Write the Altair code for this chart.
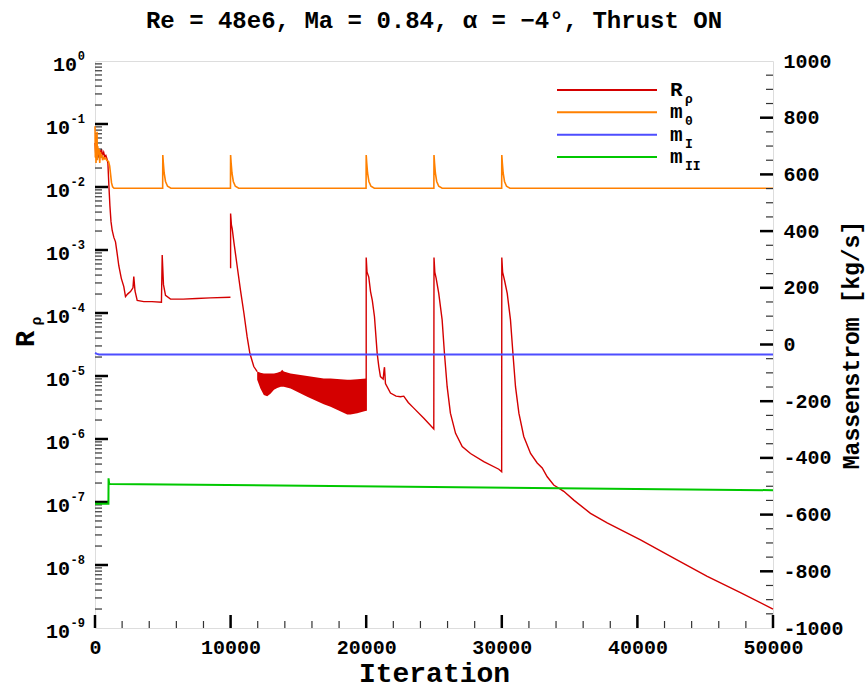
import altair as alt
import pandas as pd

FONT = "Liberation Mono"
RED, ORANGE, BLUE, GREEN = "#d40000", "#ff8000", "#4d4dff", "#00c800"
W, H = 678, 567

# ---------------- data ----------------
# residual R_rho: iteration and log10(R), split in segments
seg1_it = [0, 60, 120, 180, 240, 300, 360, 420, 480, 560, 640, 720, 800, 880, 950, 1018, 1100, 1180,
           1268, 1390, 1512, 1630, 1755, 1940, 2124, 2249, 2400, 2618, 2800, 2861, 2950, 3112, 3600,
           4200, 4900, 4956, 5050, 5200, 5570, 6500, 7500, 8500, 9990]
seg1_lg = [-1.30, -1.50, -1.38, -1.55, -1.40, -1.52, -1.42, -1.48, -1.40, -1.50, -1.45, -1.52, -1.50,
           -1.55, -1.62, -1.95, -2.30, -2.55, -2.69, -2.80, -2.87, -3.05, -3.25, -3.45, -3.58, -3.74,
           -3.70, -3.66, -3.60, -3.42, -3.65, -3.80, -3.82, -3.82, -3.83, -3.08, -3.55, -3.72, -3.78,
           -3.78, -3.77, -3.76, -3.75]
seg2_it = [10000, 10000, 10060, 10118, 10240, 10480, 10730, 10980, 11220, 11420, 11710, 11960]
seg2_lg = [-3.29, -2.42, -2.60, -2.66, -2.87, -3.25, -3.64, -4.00, -4.38, -4.64, -4.85, -4.93]
seg3_it = [20000, 20000, 20060, 20190, 20320, 20450, 20610, 20810, 20930, 21050, 21250, 21320, 21350,
           21420, 21790, 22200, 22530, 22770, 23100, 23510, 24250, 24985, 25000, 25060, 25160, 25350,
           25600, 25770, 25970, 26210, 26590, 27080, 27690, 28670, 29780, 29990, 30000, 30060, 30200,
           30400, 30640, 30820, 31010, 31260, 31620, 32120, 32610, 32980, 33350, 33830, 34570, 35310,
           36540, 37770, 40230, 42680, 45150, 47600, 50000]
seg3_lg = [-5.55, -3.12, -3.35, -3.43, -3.66, -3.80, -4.06, -4.64, -4.85, -5.01, -5.05, -4.90, -4.86,
           -5.12, -5.27, -5.32, -5.33, -5.32, -5.42, -5.51, -5.67, -5.84, -3.12, -3.35, -3.45, -3.69,
           -4.11, -4.64, -5.17, -5.59, -5.91, -6.12, -6.23, -6.36, -6.48, -6.52, -3.12, -3.35, -3.48,
           -3.69, -4.11, -4.64, -5.17, -5.59, -5.96, -6.23, -6.38, -6.46, -6.60, -6.73, -6.83, -6.97,
           -7.18, -7.33, -7.60, -7.89, -8.18, -8.44, -8.70]
# oscillating band of R_rho (envelope, log10)
band_it = [11960, 12200, 12450, 12700, 12940, 13200, 13440, 13700, 13800, 13920, 14420, 15650, 16870,
           17370, 18600, 18840, 19340, 20000]
band_hi = [-4.93, -4.95, -4.96, -4.96, -4.96, -4.96, -4.95, -4.93, -4.90, -4.93, -4.96, -5.00, -5.04,
           -5.04, -5.06, -5.06, -5.05, -5.04]
band_lo = [-5.06, -5.20, -5.30, -5.32, -5.28, -5.22, -5.19, -5.17, -5.17, -5.17, -5.20, -5.33, -5.45,
           -5.49, -5.61, -5.61, -5.59, -5.55]

# mass flows [kg/s]
m0_it = [0, 25, 50, 75, 100, 125, 150, 175, 200, 250, 300, 350, 400, 450, 500, 560, 620, 700, 780,
         860, 940, 1000, 1080, 1150, 1220, 1300, 1400,
         4990, 5000, 5040, 5100, 5200, 5350, 5600,
         9990, 10000, 10040, 10100, 10200, 10350, 10600,
         19990, 20000, 20040, 20100, 20200, 20350, 20600,
         24990, 25000, 25040, 25100, 25200, 25350, 25600,
         29990, 30000, 30040, 30100, 30200, 30350, 30600, 50000]
m0_v = [770, 660, 740, 640, 720, 690, 750, 650, 700, 670, 690, 640, 680, 660, 670, 650, 660, 655, 658,
        650, 648, 645, 630, 600, 570, 556, 551,
        551, 668, 640, 605, 575, 558, 551,
        551, 668, 640, 605, 575, 558, 551,
        551, 668, 640, 605, 575, 558, 551,
        551, 668, 640, 605, 575, 558, 551,
        551, 668, 640, 605, 575, 558, 551, 551]
m1_it = [0, 150, 300, 50000]
m1_v = [-30, -33, -35, -35]
m2_it = [0, 990, 1000, 1040, 1100, 50000]
m2_v = [-562, -562, -472, -490, -492, -514]

legend_names = ["R", "m0", "mI", "mII"]
legend_main = ["R", "m", "m", "m"]
legend_sub = ["ρ", "0", "I", "II"]
legend_colors = [RED, ORANGE, BLUE, GREEN]

title_text = "Re = 48e6, Ma = 0.84, α = −4°, Thrust ON"

x_major = [0, 10000, 20000, 30000, 40000, 50000]
x_minor = [v for v in range(0, 50001, 2000) if v % 10000]
log_exps = list(range(0, -10, -1))
log_minor = [k * 10.0 ** e for e in range(-9, 0) for k in range(2, 10)]
m_major = list(range(-800, 801, 200))
m_minor = [v for v in range(-950, 951, 50) if v % 200]

# ---------------- tables ----------------
rows = []
for s, (its, lgs) in enumerate([(seg1_it, seg1_lg), (seg2_it, seg2_lg), (seg3_it, seg3_lg)]):
    for i, (a, b) in enumerate(zip(its, lgs)):
        rows.append({"it": a, "R": 10.0 ** b, "seg": s, "i": i})
red_df = pd.DataFrame(rows)
band_df = pd.DataFrame({"it": band_it, "hi": [10.0 ** v for v in band_hi],
                        "lo": [10.0 ** v for v in band_lo]})
m0_df = pd.DataFrame({"it": m0_it, "m": m0_v, "i": range(len(m0_it))})
m1_df = pd.DataFrame({"it": m1_it, "m": m1_v, "i": range(len(m1_it))})
m2_df = pd.DataFrame({"it": m2_it, "m": m2_v, "i": range(len(m2_it))})
leg_df = pd.DataFrame({"name": legend_names, "main": legend_main, "sub": legend_sub,
                       "k": range(len(legend_names))})
lab_df = pd.DataFrame({"v": [10.0 ** e for e in log_exps], "base": ["10"] * len(log_exps),
                       "ex": [str(e) for e in log_exps], "n": [len(str(e)) for e in log_exps]})

xs = alt.Scale(domain=[0, 50000], nice=False, zero=False)
ylog = alt.Scale(type="log", domain=[1e-9, 1], nice=False)
ylin = alt.Scale(domain=[-1000, 1000], nice=False, zero=False)

xaxis = alt.Axis(values=x_major, ticks=False, domain=False, grid=False, labelFont=FONT,
                 labelFontSize=20, labelFontWeight="bold", labelColor="black", labelPadding=9,
                 labelFlush=False, labelOverlap=False, format="d",
                 title="Iteration", titleFont=FONT, titleFontSize=28, titleFontWeight="bold",
                 titleColor="black", titlePadding=2)
X = lambda f: alt.X(f, type="quantitative", scale=xs, axis=xaxis)

# ---------------- left (log) group ----------------
band = alt.Chart(band_df).mark_area(color=RED, opacity=1).encode(
    x=X("it"), y=alt.Y("hi:Q", scale=ylog, axis=None), y2="lo:Q")
red = alt.Chart(red_df).mark_line(color=RED, strokeWidth=1.4).encode(
    x=X("it"), y=alt.Y("R:Q", scale=ylog, axis=None), detail="seg:N", order="i:Q")
lmaj = alt.Chart(pd.DataFrame({"v": [10.0 ** e for e in range(-8, 0)]})).mark_rule(
    color="black", strokeWidth=2.5).encode(
    y=alt.Y("v:Q", scale=ylog, axis=None), x=alt.value(0), x2=alt.value(13))
lmin = alt.Chart(pd.DataFrame({"v": log_minor})).mark_rule(color="#333", strokeWidth=1.2).encode(
    y=alt.Y("v:Q", scale=ylog, axis=None), x=alt.value(0), x2=alt.value(7))
xmaj = alt.Chart(pd.DataFrame({"v": x_major})).mark_rule(color="black", strokeWidth=2.5).encode(
    x=X("v"), y=alt.value(H), y2=alt.value(H - 13))
xmin = alt.Chart(pd.DataFrame({"v": x_minor})).mark_rule(color="#333", strokeWidth=1.2).encode(
    x=X("v"), y=alt.value(H), y2=alt.value(H - 7))
lab10_a = alt.Chart(lab_df).transform_filter("datum.n == 1").mark_text(
    font=FONT, fontSize=20, fontWeight="bold", align="right", baseline="middle", dy=4,
    color="black").encode(y=alt.Y("v:Q", scale=ylog, axis=None), x=alt.value(-18), text="base:N")
lab10_b = alt.Chart(lab_df).transform_filter("datum.n == 2").mark_text(
    font=FONT, fontSize=20, fontWeight="bold", align="right", baseline="middle", dy=4,
    color="black").encode(y=alt.Y("v:Q", scale=ylog, axis=None), x=alt.value(-25), text="base:N")
labex = alt.Chart(lab_df).mark_text(
    font=FONT, fontSize=12, fontWeight="bold", align="right", baseline="middle", dy=-5,
    color="black").encode(y=alt.Y("v:Q", scale=ylog, axis=None), x=alt.value(-10), text="ex:N")
ltitle_r = alt.Chart(pd.DataFrame({"t": ["R"]})).mark_text(
    font=FONT, fontSize=27, fontWeight="bold", angle=270, align="center", baseline="middle",
    color="black").encode(x=alt.value(-69), y=alt.value(278), text="t:N")
ltitle_s = alt.Chart(pd.DataFrame({"t": ["ρ"]})).mark_text(
    font=FONT, fontSize=15, fontWeight="bold", angle=270, align="center", baseline="middle",
    color="black").encode(x=alt.value(-59), y=alt.value(260), text="t:N")
left = alt.layer(band, red, lmaj, lmin, xmaj, xmin, lab10_a, lab10_b, labex, ltitle_r, ltitle_s)

# ---------------- right (linear) group ----------------
raxis = alt.Axis(orient="right", values=list(range(-1000, 1001, 200)), ticks=False, domain=False,
                 grid=False, labelFont=FONT, labelFontSize=20, labelFontWeight="bold",
                 labelColor="black", labelPadding=10, labelOverlap=False, labelFlush=False,
                 labelAlign="left", labelBaseline="middle",
                 labelExpr="datum.value < 0 ? '-' + abs(datum.value) : '' + datum.value",
                 title="Massenstrom [kg/s]", titleFont=FONT, titleFontSize=23,
                 titleFontWeight="bold", titleColor="black", titleAngle=270, titleX=78,
                 titleY=H / 2, titleAlign="center", titleBaseline="middle")
Ym = lambda f: alt.Y(f, type="quantitative", scale=ylin, axis=raxis)
o_line = alt.Chart(m0_df).mark_line(color=ORANGE, strokeWidth=1.6).encode(
    x=X("it"), y=Ym("m"), order="i:Q")
b_line = alt.Chart(m1_df).mark_line(color=BLUE, strokeWidth=2).encode(
    x=X("it"), y=Ym("m"), order="i:Q")
g_line = alt.Chart(m2_df).mark_line(color=GREEN, strokeWidth=2).encode(
    x=X("it"), y=Ym("m"), order="i:Q")
rmaj = alt.Chart(pd.DataFrame({"v": m_major})).mark_rule(color="black", strokeWidth=2.5).encode(
    y=Ym("v"), x=alt.value(W), x2=alt.value(W - 13))
rmin = alt.Chart(pd.DataFrame({"v": m_minor})).mark_rule(color="#333", strokeWidth=1.2).encode(
    y=Ym("v"), x=alt.value(W), x2=alt.value(W - 7))
right = alt.layer(o_line, b_line, g_line, rmaj, rmin)

# ---------------- legend + title group ----------------
ly = alt.Y("k:Q", scale=alt.Scale(domain=[0, 3], range=[29, 96], nice=False, zero=False), axis=None)
lc = alt.Color("name:N", scale=alt.Scale(domain=legend_names, range=legend_colors), legend=None)
leg_l = alt.Chart(leg_df).mark_rule(strokeWidth=2).encode(
    y=ly, color=lc, x=alt.value(462), x2=alt.value(562))
leg_t = alt.Chart(leg_df).mark_text(font=FONT, fontSize=21, fontWeight="bold", align="left",
                                    baseline="middle", color="black").encode(
    y=ly, x=alt.value(575), text="main:N")
leg_s = alt.Chart(leg_df).mark_text(font=FONT, fontSize=13, fontWeight="bold", align="left",
                                    baseline="middle", dy=9, color="black").encode(
    y=ly, x=alt.value(590), text="sub:N")
title = alt.Chart(pd.DataFrame({"t": [title_text]})).mark_text(
    font=FONT, fontSize=24, fontWeight="bold", align="center", baseline="alphabetic",
    color="black").encode(x=alt.value(W / 2), y=alt.value(-33), text="t:N")
legend = alt.layer(leg_l, leg_t, leg_s, title)

chart = alt.layer(left, right, legend).resolve_scale(y="independent", color="independent").properties(
    width=W, height=H,
    autosize=alt.AutoSizeParams(type="none"),
    padding={"left": 95, "top": 61, "right": 94, "bottom": 61},
).configure_view(stroke="black", strokeWidth=3).configure(background="white")

chart.save("out.html", embed_options={"renderer": "svg", "actions": False})
